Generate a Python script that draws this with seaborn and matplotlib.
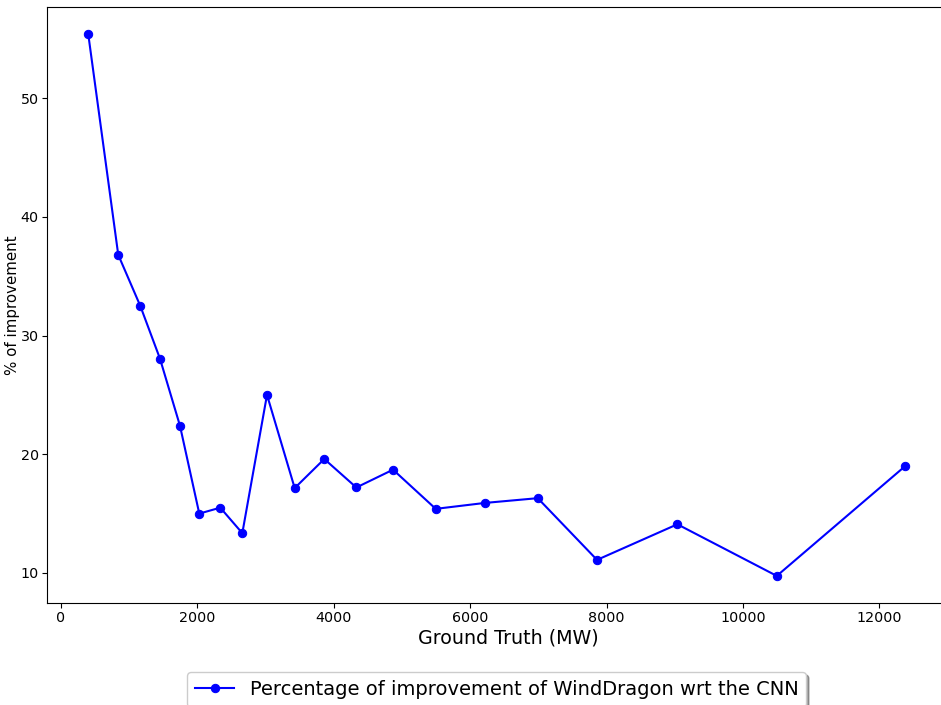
import matplotlib
matplotlib.use("Agg")
import matplotlib.pyplot as plt
import seaborn as sns
import pandas as pd

ground_truth = [400, 840, 1163, 1452, 1745, 2028, 2336, 2659, 3021, 3427,
                3861, 4331, 4869, 5495, 6218, 6991, 7860, 9038, 10496, 12378]
improvement = [55.4, 36.8, 32.5, 28.05, 22.4, 15.0, 15.5, 13.35, 25.0, 17.15,
               19.6, 17.2, 18.7, 15.4, 15.9, 16.3, 11.1, 14.1, 9.75, 19.0]
series_label = "Percentage of improvement of WindDragon wrt the CNN"

df = pd.DataFrame({"gt": ground_truth, "imp": improvement})

fig = plt.figure(figsize=(9.41, 7.05), dpi=100)
ax = fig.add_axes([47.4 / 941, 102 / 705, (946 - 47.4) / 941, 596 / 705])

sns.lineplot(data=df, x="gt", y="imp", ax=ax, color="blue", marker="o",
             markersize=6, markeredgecolor="blue", linewidth=1.5,
             label=series_label, sort=False)

ax.set_xlabel("Ground Truth (MW)", fontsize=13.7)
ax.xaxis.set_label_coords(0.5126, -0.042)
ax.set_ylabel("% of improvement", fontsize=10.8)
ax.yaxis.set_label_coords(-0.030, 0.5)
ax.tick_params(labelsize=10.3, length=3.3, pad=2.8)
ax.legend(loc="upper center", bbox_to_anchor=(0.5, -0.116), fontsize=14,
          shadow=True, fancybox=True, borderaxespad=0)

fig.savefig("out.png", dpi=100)
